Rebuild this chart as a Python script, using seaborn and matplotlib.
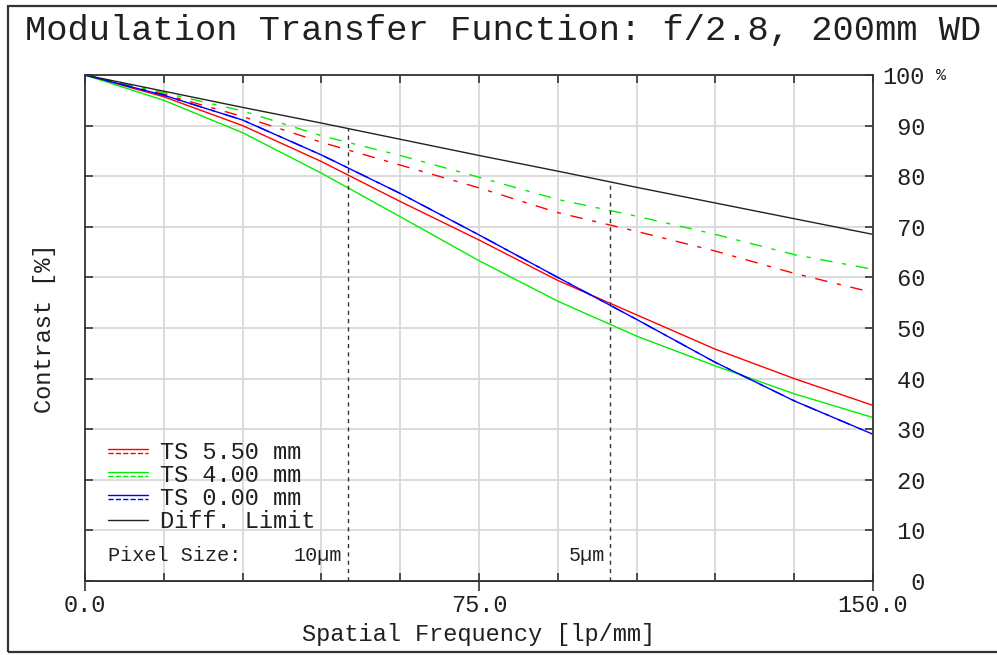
import numpy as np
import matplotlib
matplotlib.use("Agg")
import matplotlib.pyplot as plt
import seaborn as sns
from matplotlib.lines import Line2D
from matplotlib.legend_handler import HandlerBase
from matplotlib.patches import Rectangle
import matplotlib.transforms as mtransforms

# ---------------- data ----------------
freq = [0, 15, 30, 45, 60, 75, 90, 105, 120, 135, 150]
diff_limit = [100, 96.8, 93.6, 90.5, 87.3, 84.1, 81.0, 77.8, 74.7, 71.6, 68.5]
ts550_t = [100, 95.7, 90.0, 82.9, 75.0, 67.4, 59.4, 52.6, 45.8, 40.0, 34.7]
ts550_s = [100, 96.2, 91.8, 86.7, 82.2, 77.7, 72.8, 69.1, 65.2, 60.8, 57.0]
ts400_t = [100, 95.0, 88.6, 80.6, 72.0, 63.3, 55.3, 48.4, 42.5, 37.0, 32.3]
ts400_s = [100, 96.5, 92.9, 88.0, 84.1, 79.8, 75.4, 72.1, 68.5, 64.5, 61.6]
ts000_t = [100, 96.0, 91.1, 84.2, 76.6, 68.4, 60.0, 51.7, 43.2, 35.6, 29.0]
ts000_s = [100, 96.0, 91.1, 84.2, 76.6, 68.4, 60.0, 51.7, 43.2, 35.6, 29.0]

series_labels = ["TS 5.50 mm", "TS 4.00 mm", "TS 0.00 mm", "Diff. Limit"]
series_colors = ["#ff0000", "#00ee00", "#0000ff", "#222222"]

pixel_labels = ["10\u00b5m", "5\u00b5m"]
pixel_freqs = [50, 100]

x_major = [0, 75, 150]
x_major_labels = ["0.0", "75.0", "150.0"]
x_grid = list(range(0, 151, 15))
y_ticks = list(range(0, 101, 10))
y_labels = [f"{v:>3d}" for v in y_ticks]

title = "Modulation Transfer Function: f/2.8, 200mm WD"
xlabel = "Spatial Frequency [lp/mm]"
ylabel = "Contrast [%]"

# ---------------- style ----------------
sns.set_style("white")
MONO = ["Liberation Mono", "DejaVu Sans Mono"]
plt.rcParams["font.family"] = MONO
TXT = "#202020"
FS = 17

W, H = 997, 655
fig = plt.figure(figsize=(W / 100, H / 100), dpi=100)
fig.patch.set_facecolor("white")
ax = fig.add_axes([85 / W, (H - 581) / H, 788 / W, 506 / H])

DASHDOT = (0, (9, 7, 3, 7))
LW = 1.0

pairs = [(ts550_t, ts550_s), (ts400_t, ts400_s), (ts000_t, ts000_s)]
handles = []
for (t, s), c in zip(pairs, series_colors[:3]):
    sns.lineplot(x=freq, y=s, ax=ax, color=c, linewidth=LW, linestyle=DASHDOT,
                 errorbar=None, sort=False)
    sns.lineplot(x=freq, y=t, ax=ax, color=c, linewidth=LW, errorbar=None, sort=False)
    handles.append((Line2D([], [], color=c, lw=LW),
                    Line2D([], [], color=c, lw=LW, linestyle=(0, (4, 2, 2, 2)))))
sns.lineplot(x=freq, y=diff_limit, ax=ax, color=series_colors[3], linewidth=LW,
             errorbar=None, sort=False)
handles.append(Line2D([], [], color=series_colors[3], lw=LW))

# pixel-size guide lines up to the diffraction limit
for f, lab in zip(pixel_freqs, pixel_labels):
    top = float(np.interp(f, freq, diff_limit))
    ax.vlines(f, 0, top, colors="#333333", linestyles=(0, (3, 3)), linewidth=1.0, zorder=3)
    ax.text(f - 1.0, 5.1, lab, ha="right", va="center", fontsize=14.5, color=TXT)
ax.text(4.4, 5.1, "Pixel Size:", ha="left", va="center", fontsize=14.5, color=TXT)

# ---------------- axes ----------------
ax.set_xlim(0, 150)
ax.set_ylim(0, 100)
ax.set_xticks(x_major)
ax.set_xticklabels([])
ax.set_xticks(x_grid, minor=True)
ax.set_yticks(y_ticks)
ax.set_yticklabels(y_labels)
ax.grid(True, which="both", axis="x", color="#d9d9d9", linewidth=1.3)
ax.grid(True, which="major", axis="y", color="#d9d9d9", linewidth=1.3)
ax.set_axisbelow(True)

for sp in ax.spines.values():
    sp.set_visible(True)
    sp.set_color("#333333")
    sp.set_linewidth(1.3)

ax.tick_params(axis="x", which="both", direction="in", length=6, width=1.2,
               color="#333333", top=True, bottom=True, labelbottom=False)
ax.tick_params(axis="y", which="major", direction="in", length=6, width=1.2,
               color="#333333", left=True, right=True, labelleft=False, labelright=True,
               labelsize=FS, labelcolor=TXT, pad=7)
for lbl in ax.get_yticklabels():
    lbl.set_fontfamily(MONO)

# outward major ticks + labels on the bottom
sec = ax.secondary_xaxis("bottom")
sec.set_xticks(x_major)
sec.set_xticklabels(x_major_labels)
sec.tick_params(direction="out", length=7, width=1.2, color="#333333",
                labelsize=FS, labelcolor=TXT, pad=2)
sec.spines["bottom"].set_color("#333333")
sec.spines["bottom"].set_linewidth(1.3)
sec.set_xlabel(xlabel, fontsize=FS, color=TXT, labelpad=5)

trans = mtransforms.blended_transform_factory(ax.transAxes, ax.transData)
ax.text(1.08, 100, "%", transform=trans, ha="left", va="center", fontsize=12, color=TXT)

ax.set_ylabel(ylabel, fontsize=FS, color=TXT, labelpad=21)

fig.text(25 / W, 1 - 31 / H, title, ha="left", va="center", fontsize=25.5, color=TXT)


class PairHandler(HandlerBase):
    def create_artists(self, legend, orig_handle, xdescent, ydescent, width, height,
                       fontsize, trans):
        yc = height / 2 - ydescent
        arts = []
        if isinstance(orig_handle, tuple):
            for h, dy in zip(orig_handle, (1.3, -1.3)):
                l = Line2D([-xdescent, width - xdescent], [yc + dy, yc + dy],
                           color=h.get_color(), lw=h.get_linewidth(),
                           linestyle=h.get_linestyle())
                l.set_transform(trans)
                arts.append(l)
        else:
            l = Line2D([-xdescent, width - xdescent], [yc, yc],
                       color=orig_handle.get_color(), lw=orig_handle.get_linewidth())
            l.set_transform(trans)
            arts.append(l)
        return arts


leg = ax.legend(handles, series_labels, handler_map={tuple: PairHandler(), Line2D: PairHandler()},
                loc="upper left", bbox_to_anchor=(0.029, 0.276), frameon=False,
                fontsize=FS, handlelength=1.7, handletextpad=0.5, labelspacing=0.0,
                borderpad=0, borderaxespad=0)
for t in leg.get_texts():
    t.set_color(TXT)

# outer frame
fig.patches.append(Rectangle((8 / W, 3 / H), 1.2, 1 - 9 / H, transform=fig.transFigure,
                             fill=False, edgecolor="#333333", linewidth=1.6))

fig.savefig("out.png", dpi=100, facecolor="white")
